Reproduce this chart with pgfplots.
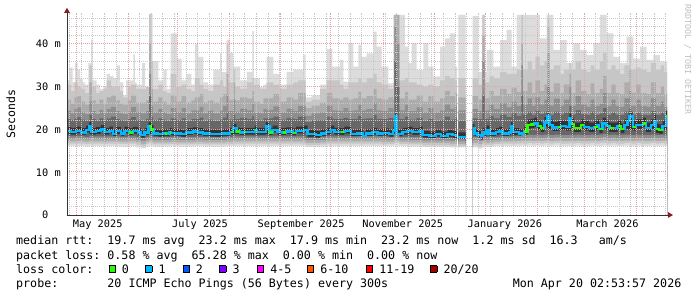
\documentclass[border=0pt]{standalone}
\usepackage{pgfplots}
\usepackage{pgfplotstable}
\pgfplotsset{compat=1.18}
\usepackage{fontspec}
\setmainfont{DejaVu Sans Mono}
\usetikzlibrary{arrows.meta}
\definecolor{cA}{HTML}{DCDCDC}
\definecolor{cB}{HTML}{C6C6C6}
\definecolor{cC}{HTML}{ACACAC}
\definecolor{cD}{HTML}{8E8E8E}
\definecolor{cE}{HTML}{676767}
\definecolor{cF}{HTML}{333333}
\definecolor{lgreen}{HTML}{26FF00}
\definecolor{lblue}{HTML}{00B8FF}
\definecolor{lblue2}{HTML}{0059FF}
\definecolor{lviolet}{HTML}{7E00FF}
\definecolor{lmag}{HTML}{FF00FF}
\definecolor{lorange}{HTML}{FF5500}
\definecolor{lred}{HTML}{FF0000}
\definecolor{ldark}{HTML}{A10000}
\definecolor{mgrid}{HTML}{EAA2A2}
\definecolor{ngrid}{HTML}{C8C8C8}
\definecolor{arrowred}{HTML}{8B1A1A}

\pgfplotstableread{
d top
-5.39 31.5
-4 34.5
-2 31.0
-0.6 35.5
1 34.0
2.4 32.0
4 31.0
5.4 30.5
7.4 35.5
9 41.0
10 31.5
12.4 30.5
14.4 29.5
16.4 30.0
18.4 33.0
20.3 32.5
22.3 32.0
24.5 35.0
26.3 31.0
28.3 28.0
30 31.5
34.3 37.6
35.3 31.0
36.3 30.5
39.5 35.5
41.3 30.0
43.7 47.0
45.9 36.0
49.3 31.5
52.3 34.0
54.3 29.5
56.7 42.5
60.3 36.5
63.2 31.5
66 33.0
69 30.5
71.2 40.0
73.2 37.0
76.2 31.0
79 30.5
82.2 34.0
86.2 38.0
87.2 33.5
90.2 41.0
92.2 38.0
94.2 34.7
98.2 31.5
102.2 33.5
105.5 43.0
106.5 32.0
110 30.0
112.1 30.5
114.1 37.0
118.1 33.0
122.1 30.5
126.1 33.5
130.1 34.0
136.1 37.5
137.5 27.5
141 28.0
146.1 30.5
150 38.8
153.5 34.7
158 36.3
160 31.2
163 40.2
166 34.7
169 39.8
171 37.0
174 37.8
178 42.9
180 39.4
182.9 34.7
186.9 30.8
189.9 46.8
196.9 39.4
198.9 35.5
200.9 40.2
203.9 33.9
207.9 40.2
210.9 34.7
213.9 32.4
217.9 39.4
220.8 41.3
223.8 42.5
226.8 34.7
228.0 0
228.8 46.8
233.2 0
237.4 46.5
240.8 33.5
243.2 46.8
244.6 33.5
245.8 38.6
249.8 34.7
253.8 40.9
257.8 43.3
260.8 34.7
263.7 46.8
277.7 41.3
281.7 46.8
285.7 38.6
289.7 40.9
293.7 35.5
297.7 40.2
301.7 38.6
305.6 37.4
309.6 40.2
313.6 46.8
317.6 42.5
321.6 37.0
325.6 35.5
329.6 41.7
333.6 36.6
337.6 39.4
341.6 36.3
345.6 37.4
349.5 35.9
353.74 35.9
}\toptab

\pgfplotstableread{
d hi2 hi3 hi4 hi5 lo5 lo4 lo3 lo2 lo1
-5.39 30.5 27.0 24.5 22.5 18.4 17.8 17.2 16.7 16.1
-3 29.0 26.0 23.8 22.2 18.4 17.8 17.2 16.7 16.1
-1 31.0 27.5 24.8 22.6 18.4 17.8 17.2 16.7 16.1
1 30.0 27.8 25.2 22.9 18.5 17.9 17.3 16.7 16.1
3 29.5 26.5 24.0 22.3 18.4 17.8 17.2 16.7 16.1
5.4 28.5 25.8 23.6 22.0 18.3 17.7 17.1 16.6 16.0
8 35.0 31.0 26.5 23.5 18.5 17.9 17.3 16.7 16.1
9.5 30.0 26.8 24.3 22.5 18.4 17.8 17.2 16.7 16.1
12 28.5 26.0 23.6 22.0 18.4 17.8 17.2 16.7 16.1
14 29.0 27.0 24.6 22.6 18.4 17.8 17.2 16.7 16.1
16.4 29.5 26.0 23.8 22.2 18.3 17.7 17.1 16.6 16.0
18.4 31.5 27.5 24.8 22.6 18.4 17.8 17.2 16.7 16.1
21 30.0 28.0 25.3 23.0 18.4 17.8 17.2 16.7 16.1
24 30.0 26.8 24.3 22.4 18.4 17.8 17.2 16.7 16.1
26.3 29.0 26.0 23.8 22.2 18.3 17.7 17.1 16.6 16.0
28 27.5 25.8 23.6 22.0 18.3 17.7 17.1 16.6 16.0
31 30.0 26.8 24.2 22.4 18.4 17.8 17.2 16.7 16.1
33 30.5 28.0 25.3 22.9 18.4 17.8 17.2 16.7 16.1
36 29.5 26.3 24.0 22.2 18.2 17.6 17.0 16.4 15.8
39 29.5 26.3 23.8 22.0 18.0 17.3 16.6 16.1 15.6
42 30.0 26.8 24.3 22.5 18.3 17.7 17.1 16.6 16.0
43.7 47.0 40.0 33.0 28.0 18.8 18.1 17.4 16.8 16.2
45 36.0 29.5 25.5 23.0 18.4 17.8 17.2 16.7 16.1
46 29.5 26.5 24.0 22.2 18.2 17.6 17.0 16.5 16.0
49.3 30.5 27.5 24.8 22.6 18.2 17.6 17.0 16.5 16.0
52 29.0 26.5 24.0 22.3 18.2 17.6 17.0 16.5 16.0
54.3 28.5 25.8 23.6 22.0 18.2 17.6 17.0 16.5 16.0
56.7 33.0 28.0 25.0 22.6 18.3 17.7 17.1 16.6 16.1
60 30.0 26.5 24.0 22.2 18.2 17.6 17.0 16.5 16.0
63.2 30.5 27.8 25.0 22.6 18.2 17.6 17.0 16.5 16.0
66 29.5 26.3 23.8 22.0 18.2 17.6 17.0 16.5 16.0
69 29.0 26.8 24.5 22.4 18.2 17.6 17.0 16.5 16.0
71.2 32.0 27.5 24.5 22.4 18.3 17.7 17.1 16.6 16.1
74 30.5 28.3 25.3 22.8 18.3 17.7 17.1 16.6 16.1
76.2 29.5 26.3 23.8 22.0 18.2 17.6 17.0 16.5 16.0
79 29.0 26.8 24.4 22.3 18.2 17.6 17.0 16.5 16.0
82.2 30.5 26.3 23.8 22.0 18.2 17.6 17.0 16.5 16.0
86.2 31.5 27.5 24.5 22.3 18.2 17.6 17.0 16.5 16.0
88 30.0 28.3 25.5 22.8 18.2 17.6 17.0 16.5 16.0
90.2 40.0 33.0 28.0 24.0 18.4 17.8 17.2 16.7 16.1
91.2 31.0 27.0 24.3 22.3 18.3 17.7 17.1 16.6 16.1
94.2 34.0 31.0 27.0 23.5 18.6 17.9 17.3 16.7 16.1
95.2 30.0 26.8 24.2 22.4 18.4 17.8 17.2 16.7 16.1
98.2 29.5 27.5 24.9 22.7 18.4 17.8 17.2 16.7 16.1
102.2 31.0 27.2 24.5 22.5 18.4 17.8 17.2 16.7 16.1
105.5 32.0 29.0 26.0 23.2 18.4 17.8 17.2 16.7 16.1
106.5 30.5 26.5 24.0 22.3 18.4 17.8 17.2 16.7 16.1
110 29.5 26.0 23.8 22.1 18.4 17.8 17.2 16.7 16.1
112.1 29.5 27.3 24.8 22.6 18.4 17.8 17.2 16.7 16.1
114.1 31.0 27.3 24.6 22.6 18.4 17.8 17.2 16.7 16.1
118.1 30.5 28.3 25.4 23.0 18.4 17.8 17.2 16.7 16.1
122.1 29.5 26.5 24.0 22.3 18.4 17.8 17.2 16.7 16.1
126.1 30.5 27.5 24.9 22.7 18.4 17.8 17.2 16.7 16.1
130.1 31.0 27.0 24.3 22.4 18.4 17.8 17.2 16.7 16.1
133 31.5 28.5 25.5 23.0 18.4 17.8 17.2 16.7 16.1
137.5 26.5 25.0 23.2 21.8 18.0 17.5 16.9 16.4 15.9
141 27.0 25.6 23.8 22.2 18.0 17.5 16.9 16.4 15.9
146.1 29.5 26.3 24.0 22.2 18.2 17.6 17.0 16.5 16.0
150 31.5 28.5 25.6 23.0 18.4 17.8 17.2 16.7 16.1
153.5 31.5 27.3 24.5 22.5 18.4 17.8 17.2 16.7 16.1
158 30.5 27.0 24.3 22.4 18.4 17.8 17.2 16.7 16.1
160 29.5 27.5 25.0 22.7 18.4 17.8 17.2 16.7 16.1
163 31.0 27.0 24.3 22.4 18.4 17.8 17.2 16.7 16.1
166 31.0 27.3 24.5 22.5 18.4 17.8 17.2 16.7 16.1
169 32.0 28.8 25.8 23.2 18.4 17.8 17.2 16.7 16.1
171 31.0 27.3 24.5 22.5 18.4 17.8 17.2 16.7 16.1
174 32.0 27.8 24.8 22.6 18.4 17.8 17.2 16.7 16.1
178 33.0 29.5 26.2 23.4 18.4 17.8 17.2 16.7 16.1
180 31.0 27.3 24.5 22.5 18.4 17.8 17.2 16.7 16.1
182.9 30.5 27.0 24.3 22.4 18.3 17.7 17.1 16.6 16.1
186.9 29.5 27.5 25.0 22.7 18.3 17.7 17.1 16.6 16.1
189.9 31.0 27.0 24.3 22.4 18.3 17.7 17.1 16.6 16.1
190.5 46.8 46.8 44.0 36.0 19.0 18.3 17.6 16.9 16.2
191.9 46.8 46.8 40.0 30.0 18.8 18.1 17.4 16.8 16.2
193.5 31.5 27.3 24.5 22.4 18.3 17.7 17.1 16.6 16.1
196.9 32.0 28.8 25.8 23.0 18.3 17.7 17.1 16.6 16.1
198.9 31.0 27.0 24.3 22.3 18.2 17.6 17.0 16.5 16.0
203.9 30.5 28.0 25.2 22.7 18.2 17.6 17.0 16.5 16.0
207.5 30.0 26.5 24.0 22.0 18.0 17.4 16.8 16.3 15.9
210.9 30.5 27.8 25.0 22.5 18.0 17.4 16.8 16.3 15.9
213.9 30.0 26.5 24.0 22.0 18.0 17.4 16.8 16.3 15.9
217.9 31.5 27.3 24.5 22.2 18.0 17.4 16.8 16.3 15.9
220.8 32.5 29.0 25.8 23.0 18.0 17.4 16.8 16.3 15.9
223.8 32.0 27.8 24.8 22.3 17.9 17.3 16.7 16.2 15.8
226.8 31.5 28.5 25.5 22.8 17.9 17.3 16.7 16.2 15.8
228.0 0 0 0 0 0 0 0 0 0
228.8 32.0 27.5 24.5 22.0 17.8 17.2 16.6 16.1 15.8
233.2 0 0 0 0 0 0 0 0 0
237.4 32.0 27.8 24.8 22.6 18.3 17.6 16.9 16.3 15.8
240.8 30.5 27.0 24.3 22.4 18.0 17.3 16.6 16.0 15.5
243.2 46.8 42.0 36.0 28.0 18.6 17.9 17.2 16.5 15.8
244.6 31.0 27.3 24.5 22.5 18.3 17.6 16.9 16.4 15.9
247.4 32.5 29.0 25.8 23.2 18.3 17.6 16.9 16.4 15.9
250 32.0 27.8 24.8 22.6 18.3 17.7 17.1 16.6 16.1
253.8 33.5 29.5 26.2 23.5 18.4 17.8 17.2 16.7 16.1
257.8 33.0 28.3 25.2 22.9 18.4 17.8 17.2 16.7 16.1
260.8 33.0 29.8 26.5 23.8 18.4 17.8 17.2 16.7 16.1
263.7 34.0 28.8 25.5 23.2 18.5 17.9 17.3 16.7 16.1
266.5 46.8 40.0 35.0 28.0 18.8 18.1 17.4 16.8 16.2
267.5 34.0 29.0 25.8 23.5 18.7 18.0 17.3 16.7 16.1
270.3 36.0 31.0 27.3 24.2 18.8 18.1 17.4 16.8 16.2
273 34.0 28.5 25.5 23.4 18.7 18.0 17.3 16.7 16.1
275 37.0 31.5 27.5 24.4 18.8 18.1 17.4 16.8 16.2
277.7 35.0 29.0 25.8 23.6 18.7 18.0 17.3 16.7 16.1
280.3 36.0 30.5 27.0 24.2 18.8 18.1 17.4 16.8 16.2
282.3 46.0 44.0 38.0 30.0 19.0 18.3 17.5 16.8 16.2
283.3 34.0 28.8 25.6 23.5 18.7 18.0 17.3 16.7 16.1
286 35.0 30.8 27.2 24.2 18.8 18.1 17.4 16.8 16.2
289.7 33.0 28.5 25.5 23.5 18.7 18.0 17.3 16.7 16.1
292 34.0 30.5 27.0 24.0 18.7 18.0 17.3 16.7 16.1
295.3 35.5 33.0 30.0 25.5 18.8 18.1 17.4 16.8 16.1
296.3 34.0 28.5 25.5 23.5 18.7 18.0 17.3 16.7 16.1
299 36.0 31.5 27.8 24.5 18.8 18.1 17.4 16.8 16.2
302.2 34.0 29.0 25.8 23.6 18.7 18.0 17.3 16.7 16.1
305.6 33.5 28.3 25.3 23.4 18.7 18.0 17.3 16.7 16.1
308 35.0 30.8 27.0 24.2 18.8 18.1 17.4 16.8 16.2
310.2 34.0 28.5 25.5 23.5 18.7 18.0 17.3 16.7 16.1
313.6 36.0 29.5 26.0 23.8 18.8 18.1 17.4 16.8 16.1
315.5 38.0 32.5 28.5 25.0 18.9 18.2 17.5 16.9 16.2
317.6 34.0 28.5 25.5 23.5 18.7 18.0 17.3 16.7 16.1
320.5 35.0 30.5 27.0 24.0 18.8 18.1 17.4 16.8 16.2
323 34.0 28.5 25.5 23.5 18.7 18.0 17.3 16.7 16.1
325.6 33.0 28.3 25.3 23.4 18.7 18.0 17.3 16.7 16.1
328.2 35.0 31.0 27.3 24.2 18.8 18.1 17.4 16.8 16.2
331.2 38.0 34.0 29.0 25.0 18.8 18.1 17.4 16.8 16.1
332.2 34.0 28.6 25.5 23.5 18.7 18.0 17.3 16.7 16.1
335.2 34.5 30.5 27.0 24.0 18.8 18.1 17.4 16.8 16.2
338 34.0 28.5 25.5 23.5 18.7 18.0 17.3 16.7 16.1
341.6 33.5 28.3 25.3 23.4 18.7 18.0 17.3 16.7 16.1
344.1 35.5 31.0 27.3 24.3 18.8 18.1 17.4 16.8 16.2
347.1 34.0 28.5 25.5 23.5 18.7 18.0 17.3 16.7 16.1
350 35.0 30.0 26.5 24.0 18.8 18.1 17.4 16.8 16.2
352 33.5 28.3 25.3 23.4 18.7 18.0 17.3 16.7 16.1
353.74 33.5 28.3 25.3 23.4 18.7 18.0 17.3 16.7 16.1
}\lev

\pgfplotstableread{
d m lo hi
-5.39 19.6 19.0 20.6
-3 19.4 18.8 20.4
0 19.7 19.1 20.7
3 19.3 18.7 20.3
6 19.9 19.3 20.9
8 20.7 18.9 21.7
9 19.4 18.8 20.4
12 19.6 19.0 20.6
15 20.0 19.4 21.0
17 19.4 18.8 20.4
20 19.7 19.1 20.7
22 19.0 18.4 20.0
24 19.6 19.0 20.6
27 19.1 18.5 20.1
29 19.7 19.1 20.7
32 19.3 18.7 20.3
34 19.6 19.0 20.6
37 19.3 18.7 20.3
39 18.7 18.1 19.7
41 19.3 18.7 20.3
43.5 20.8 18.9 21.8
45 20.0 19.1 21.0
46.5 19.1 18.5 20.1
49 18.95 18.35 19.95
53 19.1 18.5 20.1
54.5 19.0 18.4 20.0
56 19.3 18.7 20.3
57 19.2 18.6 20.2
60 19.1 18.5 20.1
63 18.9 18.3 19.9
66 19.3 18.7 20.3
70 19.5 18.9 20.5
73 19.3 18.7 20.3
76 19.1 18.5 20.1
80 18.95 18.35 19.95
84 18.9 18.3 19.9
88 19.1 18.5 20.1
92 19.4 18.8 20.4
94 20.3 18.9 21.3
96 19.5 18.9 20.5
98 19.3 18.7 20.3
100.5 19.4 18.8 20.4
101.5 19.4 18.8 20.4
107 19.9 19.3 20.9
108 19.4 18.8 20.4
113.7 20.7 18.9 21.7
115.7 19.3 18.7 20.3
117.7 19.9 19.3 20.9
120.7 19.35 18.75 20.35
123.7 19.3 18.7 20.3
125.7 19.5 18.9 20.5
129.7 19.25 18.65 20.25
131.7 19.7 19.1 20.7
136.6 19.9 19.3 20.9
138.6 18.9 18.3 19.9
143.6 18.7 18.1 19.7
146.6 19.1 18.5 20.1
149.6 19.4 18.8 20.4
152.6 19.9 19.3 20.9
154.6 19.4 18.8 20.4
158.6 19.35 18.75 20.35
160.6 19.65 19.05 20.65
164.6 18.95 18.35 19.95
168.6 19.1 18.5 20.1
171.6 18.5 17.9 19.5
173.6 19.1 18.5 20.1
177.5 19.4 18.8 20.4
180.5 19.1 18.5 20.1
183.5 19.25 18.65 20.25
187.5 18.9 18.3 19.9
189.9 19.7 19.1 20.7
191.1 23.2 18.9 24.0
191.9 19.0 18.4 20.0
195.5 19.4 18.8 20.4
198.5 19.7 19.1 20.7
201.5 19.35 18.75 20.35
205.5 19.65 19.05 20.65
207.5 18.7 18.1 19.7
211.5 18.5 17.9 19.5
215.5 18.95 18.35 19.95
218.5 18.5 17.9 19.5
222.4 18.9 18.3 19.9
225.4 18.7 18.1 19.7
227.4 18.5 17.9 19.5
228.0 18.5 17.9 19.5
228.0 nan 0 0
228.8 18.3 17.7 19.3
233.2 18.3 17.7 19.3
233.2 nan 0 0
237.4 20.3 18.9 21.3
238.4 19.1 18.5 20.1
240.4 18.7 18.1 19.7
242.4 17.9 17.4 19.0
243.4 19.35 18.5 20.4
244.6 18.9 18.3 19.9
245.8 19.9 19.3 20.9
247.4 19.1 18.5 20.1
251.4 19.35 18.75 20.35
253.4 19.65 19.05 20.65
255.3 19.1 18.5 20.1
259.3 19.3 18.7 20.3
260.3 20.8 19.0 21.8
261.3 19.35 18.75 20.35
265.3 19.1 18.5 20.1
268.3 19.5 18.8 20.8
270.3 21.05 20.15 22.35
272.3 21.2 20.3 22.5
274.3 21.45 20.55 22.75
276.3 20.8 19.9 22.1
278.3 20.3 19.4 21.6
280.3 21.6 20.7 22.9
282.3 23.0 19.8 24.2
283.3 21.05 20.15 22.35
285.3 20.5 19.6 21.8
288.3 20.65 19.75 21.95
290.3 20.8 19.9 22.1
293.3 20.65 19.75 21.95
295.3 22.6 19.8 23.8
296.3 21.3 20.4 22.6
298.2 20.3 19.4 21.6
302.2 21.05 20.15 22.35
304.2 20.65 19.75 21.95
307.2 20.3 19.4 21.6
310.2 20.65 19.75 21.95
312.2 21.05 20.15 22.35
313.2 20.05 19.15 21.35
315.2 21.45 20.55 22.75
317.2 20.8 19.9 22.1
319.2 20.3 19.4 21.6
322.2 20.3 19.4 21.6
324.2 20.8 19.9 22.1
326.2 20.05 19.15 21.35
328.2 21.05 20.15 22.35
330.2 22.05 20.0 23.35
331.2 23.0 19.9 24.2
333.2 20.65 19.75 21.95
335.2 21.05 20.15 22.35
339.2 21.45 20.55 22.75
341.1 20.3 19.4 21.6
344.1 21.05 20.15 22.35
346.1 22.05 20.0 23.35
347.1 20.05 19.15 21.35
349.1 19.9 19.0 21.2
351.1 20.8 19.9 22.1
353.1 23.2 19.9 24.4
353.74 23.2 19.9 24.4
}\med

\newcommand{\lbox}[1]{\fcolorbox{black}{#1}{\rule{0pt}{5.6bp}\rule{5.6bp}{0pt}}}
\setlength{\fboxsep}{0pt}
\setlength{\fboxrule}{0.8bp}

\begin{document}
\frenchspacing
\begin{tikzpicture}[x=1bp,y=1bp]
\useasboundingbox (0,0) rectangle (697,297);
\fill[white] (0,0) rectangle (697,297);
\begin{axis}[
  at={(67bp,82bp)}, anchor=south west,
  scale only axis, width=600bp, height=202.2bp,
  xmin=-5.39, xmax=353.74, ymin=0, ymax=47.3,
  axis lines*=left,
  axis on top,
  axis line style={draw=black!80, line width=1bp},
  x axis line style={-{Triangle[length=5bp,width=5.5bp,color=arrowred]}, shorten >=-6bp},
  y axis line style={-{Triangle[length=5bp,width=5.5bp,color=arrowred]}, shorten >=-5bp},
  major tick length=0pt, minor tick length=0pt,
  xtick={13.0,74.2,134.7,195.6,256.7,318.1},
  xticklabels={May 2025,July 2025,September 2025,November 2025,January 2026,March 2026},
  xmajorgrids=false,
  minor xtick={-4,3,10,17,24,38,45,52,59,66,73,80,87,94,101,108,115,122,129,136,143,150,157,164,171,178,185,192,199,206,213,220,227,234,241,248,255,262,269,283,290,297,311,318,325,332,339,346,353},
  xminorgrids=true,
  ytick={0,10,20,30,40},
  yticklabels={0\hphantom{00},10 m,20 m,30 m,40 m},
  minor ytick={2,4,6,8,12,14,16,18,22,24,26,28,32,34,36,38,42,44,46},
  ymajorgrids=false, yminorgrids=true,
  minor grid style={draw=ngrid, line width=1bp, dash pattern=on 1bp off 1bp},
  xticklabel style={font=\fontsize{10.3bp}{12bp}\selectfont, anchor=base, inner sep=0pt, yshift=-12.7bp},
  yticklabel style={font=\fontsize{10.3bp}{12bp}\selectfont, anchor=east, inner sep=0pt, xshift=-6bp},
  ylabel={Seconds},
  ylabel style={at={(axis description cs:-0.0937,0.5)}, anchor=center, font=\fontsize{11.5bp}{13bp}\selectfont},
]
\addplot[const plot, fill=cA, draw=none] table[x=d,y=top]{\toptab} \closedcycle;
\addplot[const plot, fill=cB, draw=none] table[x=d,y=hi2]{\lev} \closedcycle;
\addplot[const plot, fill=cC, draw=none] table[x=d,y=hi3]{\lev} \closedcycle;
\addplot[const plot, fill=cD, draw=none] table[x=d,y=hi4]{\lev} \closedcycle;
\addplot[const plot, fill=cE, draw=none] table[x=d,y=hi5]{\lev} \closedcycle;
\addplot[const plot, fill=cF, draw=none] table[x=d,y=hi]{\med} \closedcycle;
\addplot[const plot, fill=cE, draw=none] table[x=d,y=lo]{\med} \closedcycle;
\addplot[const plot, fill=cD, draw=none] table[x=d,y=lo5]{\lev} \closedcycle;
\addplot[const plot, fill=cC, draw=none] table[x=d,y=lo4]{\lev} \closedcycle;
\addplot[const plot, fill=cB, draw=none] table[x=d,y=lo3]{\lev} \closedcycle;
\addplot[const plot, fill=cA, draw=none] table[x=d,y=lo2]{\lev} \closedcycle;
\addplot[const plot, fill=white, draw=none] table[x=d,y=lo1]{\lev} \closedcycle;
% major grid: month starts and every 10 m, snapped to whole points
\pgfplotsinvokeforeach{0,31.12,60.45,91.58,122.10,152.03,183.75,214.28,244.80,275.93,304.06,335.19}{
  \draw[draw=mgrid, line width=1bp, dash pattern=on 1bp off 1bp] (axis cs:#1,0) -- (axis cs:#1,47.3);
}
\pgfplotsinvokeforeach{10.059,19.884,29.943,40.002}{
  \draw[draw=mgrid, line width=1bp, dash pattern=on 1bp off 1bp] (axis cs:-5.39,#1) -- (axis cs:353.74,#1);
}
\addplot[const plot, draw=lblue, line width=2.4bp, unbounded coords=jump] table[x=d,y=m]{\med};
\addplot[const plot, draw=lgreen, line width=2.4bp, unbounded coords=jump] coordinates {
(32,19.3)(34,19.3)(34,nan)
(43.5,20.8)(45,20.0)(46.5,20.0)(46.5,nan)
(53,19.1)(54.5,19.1)(54.5,nan)
(56,19.3)(57,19.3)(57,nan)
(92.5,19.4)(94,19.4)(94,nan)
(96,19.5)(98,19.5)(98,nan)
(100.5,19.4)(101.5,19.4)(101.5,nan)
(107,19.9)(108,19.9)(108,nan)
(115.7,19.3)(117.7,19.3)(117.7,nan)
(123.7,19.3)(125.7,19.3)(125.7,nan)
(129.7,19.25)(131.7,19.25)(131.7,nan)
(158.6,19.35)(160.6,19.35)(160.6,nan)
(268.3,19.5)(270.3,21.05)(272.3,21.2)(274.3,21.2)(274.3,nan)
(276.3,20.8)(278.3,20.3)(280.3,20.3)(280.3,nan)
(288.3,20.65)(290.3,20.65)(290.3,nan)
(296.3,21.3)(298.2,20.3)(302.2,21.05)(304.2,21.05)(304.2,nan)
(310.2,20.65)(312.2,20.65)(312.2,nan)
(313.2,20.05)(315.2,20.05)(315.2,nan)
(319.2,20.3)(322.2,20.3)(322.2,nan)
(324.2,20.8)(326.2,20.05)(328.2,20.05)(328.2,nan)
(333.2,20.65)(335.2,20.65)(335.2,nan)
(339.2,21.45)(341.1,21.45)(341.1,nan)
(347.1,20.05)(349.1,19.9)(351.1,19.9)(351.1,nan)
(353.1,23.2)(353.74,23.2)
};
\addplot[const plot, draw=lred, line width=2.4bp] coordinates {(242.4,17.9)(243.4,17.9)};
\addplot[const plot, draw=lorange, line width=2.4bp] coordinates {(243.4,19.35)(244.3,19.35)};
\end{axis}
% watermark
\node[rotate=-90, text=black!25, font=\fontsize{8.3bp}{10bp}\selectfont, inner sep=0pt] at (687.8,237.4) {RRDTOOL / TOBI OETIKER};
% legend
\begin{scope}[every node/.style={anchor=base west, inner sep=0pt, font=\fontsize{11.66bp}{14bp}\selectfont}]
\node at (16,52.7) {median rtt:~~19.7 ms avg~~23.2 ms max~~17.9 ms min~~23.2 ms now~~1.2 ms sd~~16.3~~~am/s};
\node at (16,38) {packet loss: 0.58 \% avg~~65.28 \% max~~0.00 \% min~~0.00 \% now};
\node at (16,24) {loss color:};
\node at (108.3,25.3) {\lbox{lgreen}};   \node at (121.7,24) {0};
\node at (145.0,25.3) {\lbox{lblue}};    \node at (158.4,24) {1};
\node at (182.3,25.3) {\lbox{lblue2}};   \node at (195.7,24) {2};
\node at (219.0,25.3) {\lbox{lviolet}};  \node at (232.4,24) {3};
\node at (256.7,25.3) {\lbox{lmag}};     \node at (270.1,24) {4-5};
\node at (306.7,25.3) {\lbox{lorange}};  \node at (320.1,24) {6-10};
\node at (365.7,25.3) {\lbox{lred}};     \node at (379.1,24) {11-19};
\node at (430.0,25.3) {\lbox{ldark}};    \node at (443.4,24) {20/20};
\node at (16,10) {probe:~~~~~~~20 ICMP Echo Pings (56 Bytes) every 300s};
\node[anchor=base east] at (681.5,10) {Mon Apr 20 02:53:57 2026};
\end{scope}
\end{tikzpicture}
\end{document}
